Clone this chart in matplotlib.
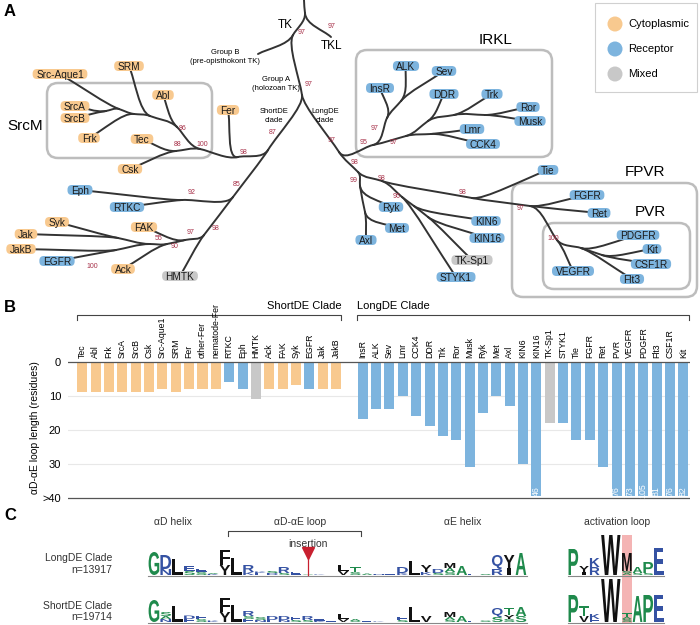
import numpy as np
import matplotlib
matplotlib.use("Agg")
import matplotlib.pyplot as plt
from matplotlib.patches import FancyBboxPatch, PathPatch, Circle, Rectangle
from matplotlib.path import Path
from matplotlib.textpath import TextPath
from matplotlib.font_manager import FontProperties

plt.rcParams['font.family'] = ['Liberation Sans', 'DejaVu Sans']

ORANGE = '#f8c98f'
BLUE = '#7db4de'
GREY = '#c8c8c8'
cat_color = {'C': ORANGE, 'R': BLUE, 'M': GREY}
LINE = '#333333'
BOOT = '#a8324a'

# ---------------- panel B data
short_names = ['Tec', 'Abl', 'Frk', 'SrcA', 'SrcB', 'Csk', 'Src-Aque1', 'SRM', 'Fer',
               'other-Fer', 'nematode-Fer', 'RTKC', 'Eph', 'HMTK', 'Ack', 'FAK', 'Syk',
               'EGFR', 'Jak', 'JakB']
short_len = [9, 9, 9, 9, 9, 9, 8, 9, 8, 8, 8, 6, 8, 11, 8, 8, 7, 8, 8, 8]
short_cat = ['C'] * 11 + ['R', 'R', 'M', 'C', 'C', 'C', 'R', 'C', 'C']

long_names = ['InsR', 'ALK', 'Sev', 'Lmr', 'CCK4', 'DDR', 'Trk', 'Ror', 'Musk', 'Ryk',
              'Met', 'Axl', 'KIN6', 'KIN16', 'TK-Sp1', 'STYK1', 'Tie', 'FGFR', 'Ret',
              'PVR', 'VEGFR', 'PDGFR', 'Flt3', 'CSF1R', 'Kit']
long_len = [17, 14, 14, 10, 16, 19, 22, 23, 31, 15, 10, 13, 30, 46, 18, 18, 23, 23, 31,
            76, 73, 105, 81, 76, 82]
long_cat = ['R'] * 14 + ['M'] + ['R'] * 10

# ---------------- panel A tree (name, parent, x, y in pixels)
tree = [
    ('top', None, 304, 0), ('R', 'top', 305, 13),
    ('TK', 'R', 293, 35), ('TKL', 'R', 331, 37),
    ('GB', 'TK', 258, 54), ('GA', 'TK', 302, 95),
    ('SD', 'GA', 268, 150), ('LD', 'GA', 339, 152),
    ('F', 'SD', 238, 157), ('Fer', 'F', 228, 110),
    ('C', 'F', 200, 149), ('TC', 'C', 176, 151),
    ('Tec', 'TC', 142, 139), ('Csk', 'TC', 130, 169),
    ('M1', 'C', 177, 127), ('Abl', 'M1', 163, 95),
    ('M2', 'M1', 150, 116), ('SRM', 'M2', 129, 66),
    ('M3', 'M2', 134, 114), ('Frk', 'M3', 89, 138),
    ('M4', 'M3', 119, 109), ('Src-Aque1', 'M4', 60, 74),
    ('AB', 'M4', 106, 111), ('SrcA', 'AB', 75, 106), ('SrcB', 'AB', 75, 118),
    ('S2', 'SD', 233, 197), ('E1', 'S2', 182, 200),
    ('Eph', 'E1', 80, 190), ('RTKC', 'E1', 127, 207),
    ('S3', 'S2', 204, 235), ('HMTK', 'S3', 180, 276),
    ('S4', 'S3', 185, 240), ('FAK', 'S4', 144, 227),
    ('S5', 'S4', 167, 244), ('Ack', 'S5', 123, 269),
    ('S6', 'S5', 150, 244), ('SJ', 'S6', 118, 238),
    ('Syk', 'SJ', 57, 222), ('Jak', 'SJ', 26, 234),
    ('JE', 'S6', 116, 250), ('JakB', 'JE', 21, 249), ('EGFR', 'JE', 57, 261),
    ('IR', 'LD', 373, 145), ('I1', 'IR', 387, 118),
    ('InsR', 'I1', 380, 88), ('AS', 'I1', 401, 101),
    ('ALK', 'AS', 406, 66), ('Sev', 'AS', 444, 71),
    ('I2', 'IR', 406, 136), ('LC', 'I2', 431, 134),
    ('Lmr', 'LC', 472, 129), ('CCK4', 'LC', 483, 144),
    ('D1', 'I2', 428, 121), ('DDR', 'D1', 444, 94),
    ('T1', 'D1', 454, 115), ('Trk', 'T1', 492, 94),
    ('RM', 'T1', 485, 115), ('Ror', 'RM', 528, 107), ('Musk', 'RM', 530, 121),
    ('L1', 'LD', 358, 172), ('L2', 'L1', 360, 186),
    ('Ryk', 'L2', 391, 207), ('L4', 'L2', 365, 212),
    ('Met', 'L4', 397, 228), ('Axl', 'L4', 366, 240),
    ('L5', 'L1', 382, 181), ('L6', 'L5', 402, 197),
    ('STYK1', 'L6', 456, 277), ('L7', 'L6', 414, 206),
    ('KIN6', 'L7', 486, 221), ('L8', 'L7', 428, 217),
    ('KIN16', 'L8', 487, 238), ('TK-Sp1', 'L8', 472, 260),
    ('L9', 'L5', 472, 198), ('Tie', 'L9', 548, 170),
    ('FP', 'L9', 530, 206), ('FGFR', 'FP', 587, 195), ('Ret', 'FP', 599, 213),
    ('P0', 'FP', 557, 240), ('VEGFR', 'P0', 573, 271),
    ('P2', 'P0', 581, 248), ('PDGFR', 'P2', 638, 235),
    ('P3', 'P2', 602, 255), ('Kit', 'P3', 652, 249), ('CSF1R', 'P3', 651, 264),
    ('Flt3', 'P2', 632, 279),
]
leaf_cat = {
    'Fer': 'C', 'Tec': 'C', 'Csk': 'C', 'Abl': 'C', 'SRM': 'C', 'Frk': 'C',
    'Src-Aque1': 'C', 'SrcA': 'C', 'SrcB': 'C', 'Eph': 'R', 'RTKC': 'R', 'HMTK': 'M',
    'FAK': 'C', 'Ack': 'C', 'Syk': 'C', 'Jak': 'C', 'JakB': 'C', 'EGFR': 'R',
    'InsR': 'R', 'ALK': 'R', 'Sev': 'R', 'Lmr': 'R', 'CCK4': 'R', 'DDR': 'R', 'Trk': 'R',
    'Ror': 'R', 'Musk': 'R', 'Ryk': 'R', 'Met': 'R', 'Axl': 'R', 'STYK1': 'R',
    'KIN6': 'R', 'KIN16': 'R', 'TK-Sp1': 'M', 'Tie': 'R', 'FGFR': 'R', 'Ret': 'R',
    'VEGFR': 'R', 'PDGFR': 'R', 'Kit': 'R', 'CSF1R': 'R', 'Flt3': 'R',
}
# bootstrap support: value, label position
support = [
    ('97', 302, 33), ('97', 332, 26), ('97', 309, 84), ('87', 273, 133), ('97', 332, 140),
    ('98', 244, 152), ('100', 202, 144), ('88', 178, 144), ('86', 183, 128),
    ('85', 237, 185), ('92', 192, 193), ('98', 216, 229), ('97', 191, 233),
    ('55', 159, 238), ('90', 175, 247), ('100', 92, 267),
    ('97', 375, 128), ('95', 364, 143), ('97', 394, 143),
    ('98', 355, 163), ('99', 354, 181), ('98', 382, 178), ('96', 397, 196),
    ('98', 463, 192), ('97', 521, 208), ('100', 553, 238),
]

# ---------------- panel C logos (bottom -> top, height in bits)
long_logo = [
    [('G', 2.3)], [('N', 0.6), ('D', 1.4)], [('L', 1.6)], [('S', 0.4), ('E', 0.5)],
    [('S', 0.3), ('E', 0.35)], [('K', 0.1), ('A', 0.1)], [('Y', 1.0), ('F', 1.5)],
    [('L', 1.7)], [('K', 0.3), ('R', 0.7)], [('E', 0.2), ('K', 0.15)],
    [('D', 0.2), ('S', 0.2)], [('S', 0.2), ('R', 0.6)], [('E', 0.35)],
    [('S', 0.05)], [('K', 0.05)], [('E', 0.05)], [('V', 0.4), ('L', 0.6)],
    [('S', 0.3), ('T', 0.5)], [('A', 0.15)], [('N', 0.1)], [('E', 0.1)],
    [('K', 0.2), ('D', 0.6)], [('L', 1.4)], [('K', 0.3), ('Y', 0.7)],
    [('S', 0.2), ('D', 0.4)], [('S', 0.3), ('A', 0.4), ('M', 0.5)], [('A', 0.9)],
    [('E', 0.15)], [('S', 0.1)], [('R', 0.6), ('Q', 1.4)], [('I', 0.7), ('Y', 1.3)],
    [('A', 2.2)],
]
short_logo = [
    [('G', 2.2)], [('N', 0.3), ('A', 0.3), ('S', 0.4)], [('L', 1.6)],
    [('E', 0.3), ('D', 0.35)], [('S', 0.3), ('E', 0.3)], [('K', 0.15)],
    [('Y', 1.0), ('F', 1.4)], [('L', 1.7)], [('E', 0.3), ('S', 0.3), ('R', 0.5)],
    [('N', 0.2), ('S', 0.3)], [('E', 0.2), ('D', 0.4)], [('N', 0.2), ('D', 0.4)],
    [('S', 0.2), ('E', 0.3)], [('S', 0.2), ('R', 0.4)], [('K', 0.15), ('E', 0.2)],
    [('E', 0.1)], [('V', 0.3), ('L', 0.5)], [('S', 0.1), ('A', 0.2)], [('E', 0.1)],
    [('K', 0.05)], [('E', 0.05)], [('S', 0.2), ('E', 0.3)], [('L', 1.5)],
    [('V', 0.6)], [('E', 0.05)], [('S', 0.2), ('A', 0.3), ('M', 0.5)], [('A', 0.6)],
    [('E', 0.15)], [('S', 0.15)], [('S', 0.5), ('Q', 0.9)],
    [('S', 0.3), ('Y', 0.4), ('T', 0.7)], [('S', 0.6), ('A', 0.9)],
]
act_long = [
    [('P', 2.6)], [('I', 0.3), ('Y', 0.6)], [('R', 0.8), ('K', 0.9)], [('W', 4.0)],
    [('A', 0.2), ('S', 0.2), ('M', 1.8)], [('S', 0.2), ('A', 0.6)],
    [('S', 0.2), ('P', 1.1)], [('E', 2.7)],
]
act_short = [
    [('P', 2.7)], [('V', 0.6), ('T', 1.0)], [('E', 0.3), ('K', 0.5)], [('W', 4.3)],
    [('S', 0.3), ('A', 0.2), ('T', 0.4)], [('A', 2.6)], [('P', 2.7)], [('E', 2.7)],
]
act_widths = [1, 1, 1, 2, 1, 1, 1, 1]


def letter_color(ch):
    if ch in 'GSTAPC':
        return '#1f8a4c'
    if ch in 'DEKRHNQ':
        return '#3552a3'
    return '#111111'


fig = plt.figure(figsize=(7, 6.25), dpi=100)
ax = fig.add_axes([0, 0, 1, 1])
ax.set_xlim(0, 700)
ax.set_ylim(625, 0)
ax.axis('off')

# ---------------- panel A
pos = {n: np.array([x, y], float) for n, p, x, y in tree}
par = {n: p for n, p, x, y in tree}

# curved branches, leaving each node along the direction of its own stem
for n, p, x, y in tree:
    if p is None:
        continue
    a = pos[p]
    c = pos[n]
    gp = par[p]
    u = np.array([0.0, 1.0]) if gp is None else (a - pos[gp]) / np.hypot(*(a - pos[gp]))
    d = np.hypot(*(c - a))
    p1 = a + u * min(0.35 * d, 12)
    p2 = c + (a - c) * 0.3
    path = Path([a, p1, p2, c], [Path.MOVETO, Path.CURVE4, Path.CURVE4, Path.CURVE4])
    ax.add_patch(PathPatch(path, fc='none', ec=LINE, lw=1.4, capstyle='round', zorder=2))

renderer = fig.canvas.get_renderer()
for name, cat in leaf_cat.items():
    x, y = pos[name]
    t = ax.text(x, y + 0.6, name, ha='center', va='center', fontsize=7.3,
                color='#1a1a1a', zorder=6)
    w = t.get_window_extent(renderer).width + 7
    ax.add_patch(FancyBboxPatch((x - w / 2, y - 5), w, 10,
                                boxstyle='round,pad=0,rounding_size=4.5',
                                fc=cat_color[cat], ec='none', zorder=5))

for val, x, y in support:
    ax.text(x, y, val, fontsize=5, color=BOOT, ha='center', va='center', zorder=3)

# clade boxes
for (x0, y0, x1, y1) in [(47, 83, 212, 158), (356, 50, 552, 157),
                         (512, 183, 697, 297), (543, 223, 690, 289)]:
    ax.add_patch(FancyBboxPatch((x0, y0), x1 - x0, y1 - y0,
                                boxstyle='round,pad=0,rounding_size=11',
                                fc='none', ec='#bdbdbd', lw=1.8, zorder=1))

ax.text(25, 126, 'SrcM', fontsize=11, ha='center', va='center')
ax.text(496, 40, 'IRKL', fontsize=11, ha='center', va='center')
ax.text(645, 172, 'FPVR', fontsize=11, ha='center', va='center')
ax.text(650, 212, 'PVR', fontsize=11, ha='center', va='center')
ax.text(285, 25, 'TK', fontsize=8.5, ha='center', va='center')
ax.text(332, 46, 'TKL', fontsize=8.5, ha='center', va='center')
ax.text(225, 57, 'Group B\n(pre-opisthokont TK)', fontsize=5.5, ha='center',
        va='center', linespacing=1.3)
ax.text(276, 84, 'Group A\n(holozoan TK)', fontsize=5.5, ha='center', va='center',
        linespacing=1.3)
ax.text(274, 116, 'ShortDE\nclade', fontsize=5.5, ha='center', va='center',
        linespacing=1.3)
ax.text(325, 116, 'LongDE\nclade', fontsize=5.5, ha='center', va='center',
        linespacing=1.3)

# legend
ax.add_patch(Rectangle((595, 3), 102, 89, fc='white', ec='#d0d0d0', lw=0.8, zorder=1))
for i, (lab, col) in enumerate([('Cytoplasmic', ORANGE), ('Receptor', BLUE),
                                ('Mixed', GREY)]):
    ax.add_patch(Circle((615, 24 + 25 * i), 7.5, fc=col, ec='none', zorder=2))
    ax.text(628, 24 + 25 * i, lab, fontsize=8, va='center', ha='left')

for lab, y in [('A', 12), ('B', 308), ('C', 515)]:
    ax.text(4, y, lab, fontsize=12, fontweight='bold', va='center', ha='left')

# ---------------- panel B
axb = fig.add_axes([68 / 700, 1 - 500 / 625, 622 / 700, 145 / 625])
axb.patch.set_alpha(0)
xs_short = np.arange(len(short_names))
xs_long = np.arange(len(long_names)) + len(short_names) + 1
xs = np.concatenate([xs_short, xs_long])
vals = np.array(short_len + long_len)
cols = [cat_color[c] for c in short_cat + long_cat]
names = short_names + long_names

for yv in [10, 20, 30]:
    axb.axhline(yv, color='#e8e8e8', lw=0.8, zorder=0)
axb.bar(xs, np.minimum(vals, 39.4), width=0.75, color=cols, zorder=2)
axb.axhline(0, color='#555555', lw=0.9, zorder=3)
axb.axhline(40, color='#555555', lw=0.9, zorder=3)
axb.set_xlim(-1.07, 45.5)
axb.set_ylim(40.7, -1.97)
axb.set_xticks([])
axb.set_yticks([0, 10, 20, 30, 40])
axb.set_yticklabels(['0', '10', '20', '30', '>40'])
axb.tick_params(length=0, pad=5, labelsize=8)
for s in axb.spines.values():
    s.set_visible(False)

for x, n, v in zip(xs, names, vals):
    axb.text(x, -1.0, n, rotation=90, ha='center', va='bottom', fontsize=6.3)
    if v > 40:
        axb.text(x, 38.0, str(v), rotation=90, ha='center', va='center',
                 fontsize=6.3, color='white', zorder=4)

for lo, hi in [(xs_short[0] - 0.4, xs_short[-1] + 0.4), (xs_long[0] - 0.4, xs_long[-1] + 0.4)]:
    axb.plot([lo, lo, hi, hi], [-12.3, -13.7, -13.7, -12.3], color='#444444', lw=0.8,
             clip_on=False)
axb.text(xs_short[-1] + 0.4, -16.5, 'ShortDE Clade', ha='right', va='center', fontsize=8)
axb.text(xs_long[0] - 0.4, -16.5, 'LongDE Clade', ha='left', va='center', fontsize=8)
fig.text(35 / 700, 1 - 428 / 625, 'αD-αE loop length (residues)', rotation=90,
         ha='center', va='center', fontsize=7.5)

# ---------------- panel C
fp = FontProperties(family='Liberation Sans', weight='bold')


def draw_letter(ch, x0, base, w, h, color):
    tp = TextPath((0, 0), ch, size=1, prop=fp)
    ext = tp.get_extents()
    if ch == 'I':
        x0, w = x0 + w * 0.3, w * 0.4
    v = tp.vertices.copy()
    v[:, 0] = x0 + (v[:, 0] - ext.x0) / ext.width * w
    v[:, 1] = base - (v[:, 1] - ext.y0) / ext.height * h
    ax.add_patch(PathPatch(Path(v, tp.codes), fc=color, ec='none', lw=0, zorder=4))


def draw_logo(stacks, x0, base, colw, widths=None):
    x = x0
    for i, stack in enumerate(stacks):
        cw = colw * (widths[i] if widths else 1)
        y = base
        for ch, bits in stack:
            h = bits * 10.0
            draw_letter(ch, x + cw * 0.05, y, cw * 0.9, h, letter_color(ch))
            y -= h
        x += cw
    ax.plot([x0, x], [base + 0.8, base + 0.8], color='#888888', lw=0.8, zorder=3)


main_x0, main_w = 148, 11.84
act_x0, act_w = 568, 10.7
# highlight of activation-loop column
hx = act_x0 + act_w * sum(act_widths[:4])
ax.add_patch(Rectangle((hx, 535), act_w, 88, fc='#f4b4b4', ec='none', zorder=1))

draw_logo(long_logo, main_x0, 575, main_w)
draw_logo(short_logo, main_x0, 622, main_w)
draw_logo(act_long, act_x0, 575, act_w, act_widths)
draw_logo(act_short, act_x0, 622, act_w, act_widths)

ins_x = main_x0 + main_w * 13.5
ax.plot([ins_x, ins_x], [553, 575], color='#c8202f', lw=0.9, zorder=5)
ax.plot([ins_x], [553], marker='v', color='#c8202f', markersize=8, zorder=6)
ax.text(ins_x, 544, 'insertion', fontsize=7.5, ha='center', va='center', color='#333333')

ax.plot([228, 228, 361, 361], [536, 531, 531, 536], color='#444444', lw=0.8)
ax.text(173, 522, 'αD helix', fontsize=7.5, ha='center', va='center', color='#333333')
ax.text(300, 522, 'αD-αE loop', fontsize=7.5, ha='center', va='center', color='#333333')
ax.text(463, 522, 'αE helix', fontsize=7.5, ha='center', va='center', color='#333333')
ax.text(617, 522, 'activation loop', fontsize=7.5, ha='center', va='center',
        color='#333333')
ax.text(112, 558, 'LongDE Clade', fontsize=7.5, ha='right', va='center', color='#333333')
ax.text(112, 570, 'n=13917', fontsize=7.5, ha='right', va='center', color='#333333')
ax.text(112, 606, 'ShortDE Clade', fontsize=7.5, ha='right', va='center', color='#333333')
ax.text(112, 617, 'n=19714', fontsize=7.5, ha='right', va='center', color='#333333')

fig.savefig('out.png', dpi=100)
